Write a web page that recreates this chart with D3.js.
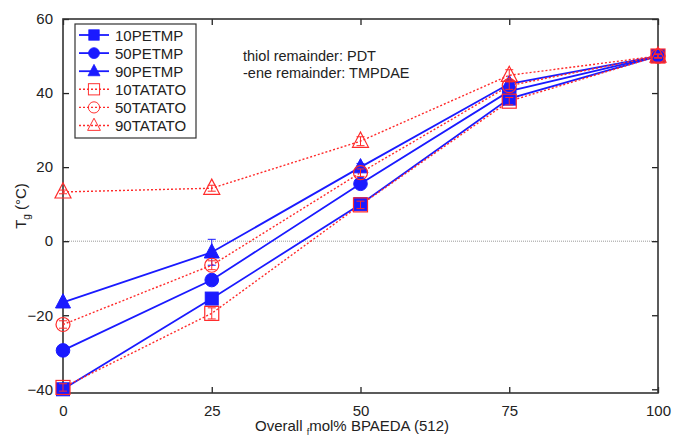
<!DOCTYPE html>
<html><head><meta charset="utf-8">
<script src="https://cdn.jsdelivr.net/npm/d3@7"></script>
<style>body{margin:0;background:#fff;} svg{display:block;font-family:Arial,"Liberation Sans",sans-serif;}</style>
</head><body><svg id="c" width="674" height="438"></svg>
<script>
const xValues = [0, 25, 50, 75, 100];
const seriesNames = ["10PETMP","50PETMP","90PETMP","10TATATO","50TATATO","90TATATO"];
const pet10 = [-40, -15.5, 10, 38.5, 50];
const pet50 = [-29.5, -10.5, 15.5, 40.5, 50];
const pet90 = [-16.5, -3, 20, 42.5, 50];
const tat10 = [-39.5, -19.5, 9.8, 37.8, 50];
const tat50 = [-22.5, -6.5, 18.5, 42, 50];
const tat90 = [13.3, 14.3, 27, 44.8, 50];
const err10p = [0.5, 1, 0.8, 1, 0.5];
const err50p = [0.5, 0.8, 0.8, 0.8, 0.5];
const err90p = [0.5, 3.5, 1, 1, 0.5];
const err10t = [1, 1.5, 1, 1, 0.5];
const err50t = [1, 1.2, 1, 1, 0.5];
const err90t = [0.5, 0.8, 1.2, 1.5, 0.5];
const xTicks = [0, 25, 50, 75, 100];
const yTicks = [-40, -20, 0, 20, 40, 60];

const seriesValues = [pet10, pet50, pet90, tat10, tat50, tat90];
const seriesErrs = [err10p, err50p, err90p, err10t, err50t, err90t];
const shapes = ["square","circle","triangle","square","circle","triangle"];

const svg = d3.select("#c");
const L = 63, R = 658, T = 19, B = 393;
const x = d3.scaleLinear().domain([0, 100]).range([L, R]);
const y = d3.scaleLinear().domain([-41, 60]).range([B, T]);

// zero line
svg.append("line").attr("x1", L).attr("x2", R).attr("y1", y(0)).attr("y2", y(0))
  .attr("stroke", "#999").attr("stroke-width", 1).attr("stroke-dasharray", "1,1");

// axes with inward ticks
const tickLen = 6;
svg.append("g").attr("transform", `translate(0,${B})`)
  .call(d3.axisBottom(x).tickValues(xTicks).tickSize(-tickLen).tickPadding(12).tickFormat(d3.format("d")))
  .call(g => { g.select(".domain").remove(); g.selectAll("text").attr("font-size", 15).attr("fill","#222"); g.selectAll("line").attr("stroke","#222").attr("stroke-width",1.3); });
svg.append("g").attr("transform", `translate(0,${T})`)
  .call(d3.axisTop(x).tickValues(xTicks).tickSize(-tickLen).tickFormat(""))
  .call(g => { g.select(".domain").remove(); g.selectAll("line").attr("stroke","#222").attr("stroke-width",1.3); });
svg.append("g").attr("transform", `translate(${L},0)`)
  .call(d3.axisLeft(y).tickValues(yTicks).tickSize(-tickLen).tickPadding(10).tickFormat(d3.format("d")))
  .call(g => { g.select(".domain").remove(); g.selectAll("text").attr("font-size", 15).attr("fill","#222"); g.selectAll("line").attr("stroke","#222").attr("stroke-width",1.3); });
svg.append("g").attr("transform", `translate(${R},0)`)
  .call(d3.axisRight(y).tickValues(yTicks).tickSize(-tickLen).tickFormat(""))
  .call(g => { g.select(".domain").remove(); g.selectAll("line").attr("stroke","#222").attr("stroke-width",1.3); });

// frame
svg.append("rect").attr("x", L).attr("y", T).attr("width", R - L).attr("height", B - T)
  .attr("fill", "none").attr("stroke", "#333").attr("stroke-width", 1.6);

function styleOf(i) {
  const blue = i < 3;
  return blue ? {color: "#1a1aff", dash: null, width: 1.8, fill: "#1a1aff"}
              : {color: "#ff2a2a", dash: "2,2", width: 1.4, fill: "none"};
}
function drawMarker(g, shape, cx, cy, st, blue) {
  const sw = blue ? 1 : 1.2;
  if (shape === "square") {
    const s = blue ? 13 : 14;
    g.append("rect").attr("x", cx - s/2).attr("y", cy - s/2).attr("width", s).attr("height", s)
      .attr("fill", st.fill).attr("stroke", st.color).attr("stroke-width", sw);
  } else if (shape === "circle") {
    g.append("circle").attr("cx", cx).attr("cy", cy).attr("r", blue ? 6.8 : 7)
      .attr("fill", st.fill).attr("stroke", st.color).attr("stroke-width", sw);
  } else {
    const s = blue ? 15 : 16;
    const h = s * 0.95;
    g.append("path").attr("d", `M${cx},${cy - h*0.6}L${cx + s/2},${cy + h*0.4}L${cx - s/2},${cy + h*0.4}Z`)
      .attr("fill", st.fill).attr("stroke", st.color).attr("stroke-width", sw);
  }
}

const line = d3.line().x(d => x(d[0])).y(d => y(d[1]));
const plot = svg.append("g");
[0,1,2,3,4,5].forEach(i => {
  const st = styleOf(i);
  const pts = xValues.map((xv, k) => [xv, seriesValues[i][k]]);
  plot.append("path").datum(pts).attr("d", line).attr("fill", "none")
    .attr("stroke", st.color).attr("stroke-width", st.width)
    .attr("stroke-dasharray", st.dash);
});
[0,1,2,3,4,5].forEach(i => {
  const st = styleOf(i);
  const blue = i < 3;
  xValues.forEach((xv, k) => {
    const v = seriesValues[i][k], e = seriesErrs[i][k];
    const cx = x(xv);
    const eg = plot.append("g").attr("stroke", blue ? "#1a1aff" : "#ff2a2a").attr("stroke-width", 1);
    eg.append("line").attr("x1", cx).attr("x2", cx).attr("y1", y(v - e)).attr("y2", y(v + e));
    eg.append("line").attr("x1", cx - 4).attr("x2", cx + 4).attr("y1", y(v - e)).attr("y2", y(v - e));
    eg.append("line").attr("x1", cx - 4).attr("x2", cx + 4).attr("y1", y(v + e)).attr("y2", y(v + e));
    drawMarker(plot, shapes[i], cx, y(v), st, blue);
  });
});

// legend
const lg = svg.append("g");
lg.append("rect").attr("x", 75).attr("y", 24).attr("width", 121).attr("height", 114)
  .attr("fill", "#fff").attr("stroke", "#333").attr("stroke-width", 1.2);
seriesNames.forEach((name, i) => {
  const st = styleOf(i);
  const blue = i < 3;
  const yy = 35 + i * 18.1;
  lg.append("line").attr("x1", 79).attr("x2", 109).attr("y1", yy).attr("y2", yy)
    .attr("stroke", st.color).attr("stroke-width", st.width).attr("stroke-dasharray", st.dash);
  const mg = lg.append("g").attr("transform", `translate(94,${yy}) scale(0.8) translate(-94,${-yy})`);
  drawMarker(mg, shapes[i], 94, yy, st, blue);
  lg.append("text").attr("x", 115).attr("y", yy + 5.5).attr("font-size", 15).attr("fill", "#222").text(name);
});

// annotation
svg.append("text").attr("x", 243).attr("y", 61).attr("font-size", 14.5).attr("fill", "#222").text("thiol remainder: PDT");
svg.append("text").attr("x", 243).attr("y", 78).attr("font-size", 14.5).attr("fill", "#222").text("-ene remainder: TMPDAE");

// axis titles
const xt = svg.append("text").attr("x", 352).attr("y", 431).attr("text-anchor", "middle").attr("font-size", 15).attr("fill", "#222");
xt.append("tspan").text("Overall ");
xt.append("tspan").attr("font-size", 9).attr("dy", 4).text("f");
xt.append("tspan").attr("dy", -4).text("mol% BPAEDA (512)");

const yt = svg.append("text").attr("transform", "translate(26,206) rotate(-90)").attr("text-anchor", "middle").attr("font-size", 15).attr("fill", "#222");
yt.append("tspan").text("T");
yt.append("tspan").attr("font-size", 10).attr("dy", 4).text("g");
yt.append("tspan").attr("dy", -4).text(" (°C)");
</script></body></html>
